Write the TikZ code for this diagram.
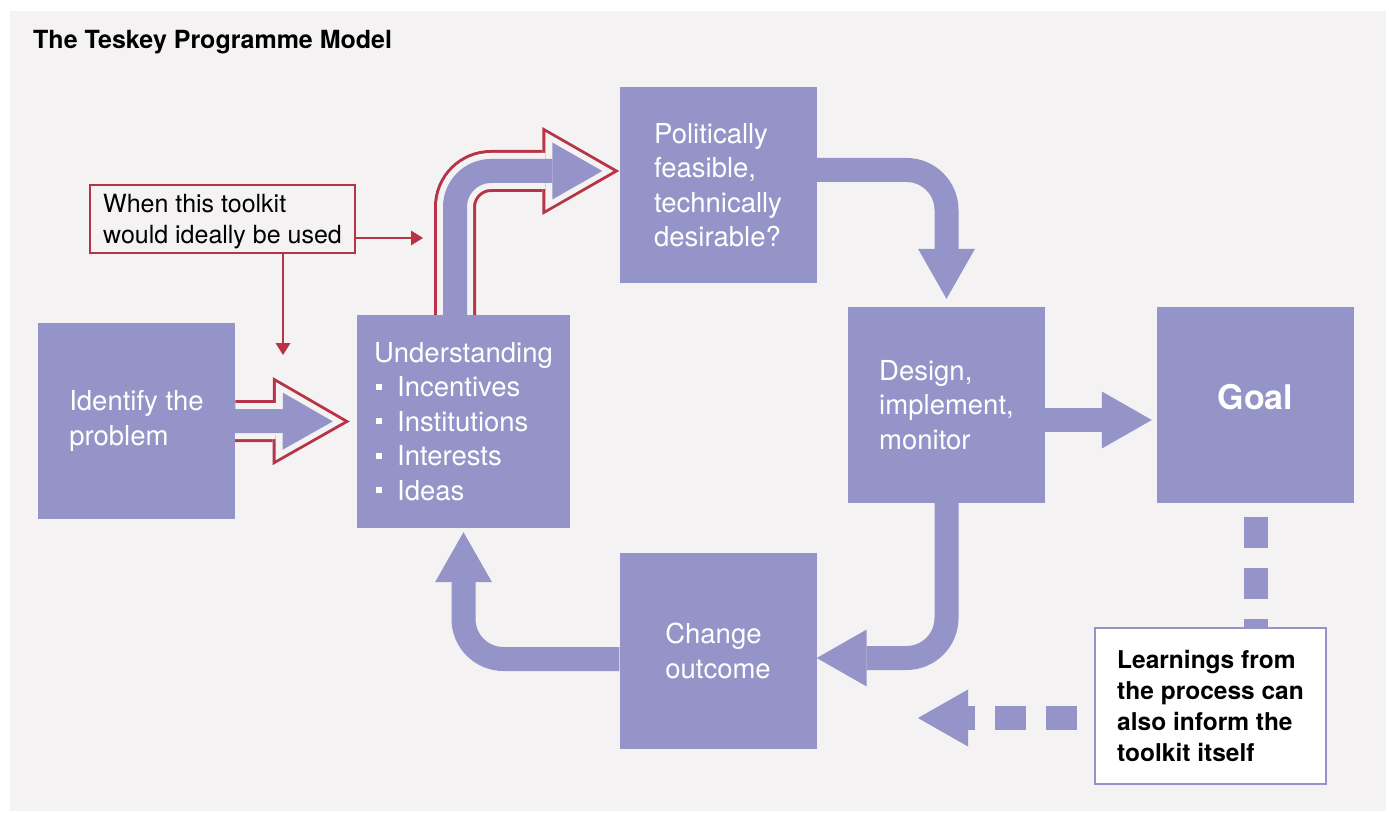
\documentclass[tikz,border=0pt]{standalone}
\usepackage{fontspec}
\setmainfont{TeX Gyre Heros}
\usepackage{tikz}
\usetikzlibrary{arrows.meta, calc, backgrounds}
\usepackage{xcolor}

\definecolor{stagefill}{HTML}{9494C8}
\definecolor{paper}{HTML}{F4F2F3}
\definecolor{marker}{HTML}{B73448}

% small square bullet for the list in the understanding box
\newcommand{\sqitem}{\hspace*{2pt}\rule[7pt]{6pt}{6pt}\hspace{15pt}}

\begin{document}
\begin{tikzpicture}[
  x=1pt, y=-1pt,
  stage/.style={fill=stagefill, text=white, align=left, inner sep=0pt,
                minimum width=197pt, minimum height=196pt,
                font=\fontsize{27.5}{34.5}\selectfont},
  note/.style={draw=marker, line width=2.5pt, fill=paper, align=left,
               inner sep=0pt, minimum width=265pt, minimum height=68pt,
               text depth=0pt, font=\fontsize{25}{31}\selectfont},
  learnbox/.style={draw=stagefill, line width=2pt, fill=white, align=left,
               inner sep=0pt, minimum width=231pt, minimum height=156pt,
               font=\bfseries\fontsize{24.5}{31}\selectfont},
  flow/.style={draw=stagefill, line width=24pt,
               -{Triangle[length=50pt, width=57pt, line width=0pt]}},
  dashflow/.style={draw=stagefill, line width=24pt,
               dash pattern=on 31pt off 20pt},
  redtrack/.style={draw=marker, line width=42pt, rounded corners=36pt,
               -{Triangle[length=77pt, width=88pt, line width=0pt]}},
  gaptrack/.style={draw=paper, line width=36pt, rounded corners=36pt,
               shorten >=6pt,
               -{Triangle[length=68pt, width=78pt, line width=0pt]}},
  innertrack/.style={draw=stagefill, line width=24pt, rounded corners=36pt,
               shorten >=17pt,
               -{Triangle[length=50pt, width=57pt, line width=0pt]}},
  pointer/.style={draw=marker, line width=2.5pt,
               -{Triangle[length=12pt, width=15pt, line width=0pt]}}
]
  \useasboundingbox (0,0) rectangle (1389,813);

  \node[anchor=base west, inner sep=0pt,
        font=\bfseries\fontsize{25}{28}\selectfont] (title) at (33,49)
        {The Teskey Programme Model};

  \node[stage] (ident)  at (136.5,421) {Identify the\\problem};
  \node[stage, minimum width=213pt, minimum height=213pt] (under) at (463.5,421.5)
        {Understanding\\\sqitem Incentives\\\sqitem Institutions\\\sqitem Interests\\\sqitem Ideas};
  \node[stage] (polit)  at (718,185)   {Politically\\feasible,\\technically\\desirable?};
  \node[stage] (design) at (946.5,405) {Design,\\implement,\\monitor};
  \node[stage, font=\bfseries\fontsize{34}{40}\selectfont, text depth=16pt]
        (goal) at (1255.5,405) {Goal};
  \node[stage] (change) at (718,651)   {Change\\outcome};

  \node[note] (when) at (222.5,219) {When this toolkit\\would ideally be used};
  \node[learnbox] (learn) at (1210.5,706)
        {Learnings from\\the process can\\also inform the\\toolkit itself};

  \coordinate (bend)     at (455,171);
  \coordinate (sidetip)  at (423,238);
  \coordinate (downtip)  at (283,355);
  \coordinate (backtip)  at (918,718);

  \begin{scope}[on background layer]
    \fill[paper] (10,11) rectangle (1386,811);

    % outlined arrows
    \draw[redtrack, shorten >=7pt]    (ident.east) -- (under.west);
    \draw[gaptrack, shorten >=13pt]   (ident.east) -- (under.west);
    \draw[innertrack, shorten >=24pt] (ident.east) -- (under.west);

    \draw[redtrack]   (under.north -| bend) |- (polit.west |- bend);
    \draw[gaptrack]   (under.north -| bend) |- (polit.west |- bend);
    \draw[innertrack] (under.north -| bend) |- (polit.west |- bend);

    % the cycle
    \draw[flow, rounded corners=40pt, shorten >=8pt]
      ($(polit.east)+(0,-15)$) -| (design.north);
    \draw[flow, shorten >=5pt] ($(design.east)+(0,15)$) -- ($(goal.west)+(0,15)$);
    \draw[flow, rounded corners=40pt] (design.south) |- ($(change.east)+(0,7)$);
    \draw[flow, rounded corners=40pt, shorten >=4pt]
      ($(change.west)+(0,8)$) -| (under.south);

    % feedback
    \draw[dashflow, dash phase=37pt] (goal.south) -- (goal.south |- learn.north);
    \draw[dashflow, dash phase=34pt,
          -{Triangle[length=50pt, width=57pt, line width=0pt]}]
      (learn.west |- backtip) -- (backtip);
  \end{scope}

  \draw[pointer] (when.east |- sidetip) -- (sidetip);
  \draw[pointer] (when.south -| downtip) -- (downtip);
\end{tikzpicture}
\end{document}
